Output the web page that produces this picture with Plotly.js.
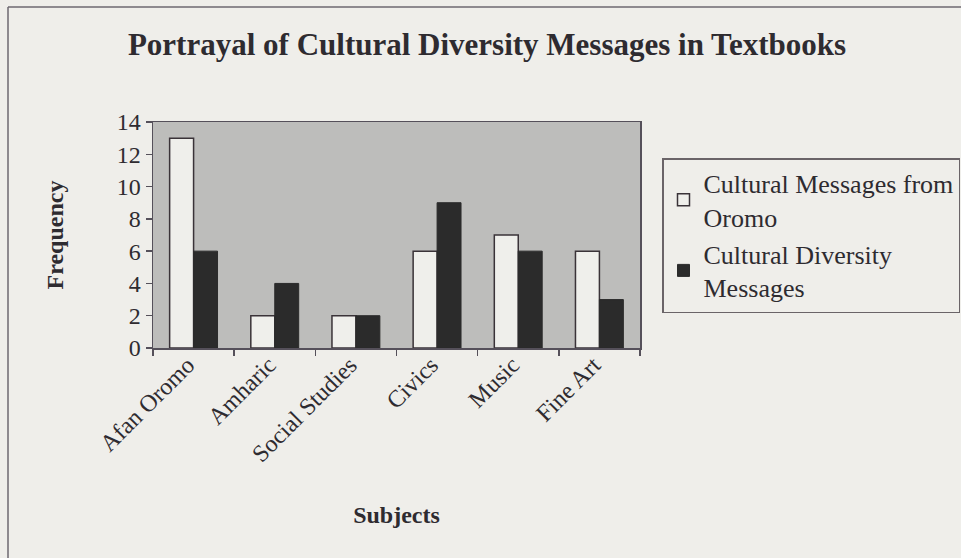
<!DOCTYPE html>
<html>
<head>
<meta charset="utf-8">
<script src="https://cdn.plot.ly/plotly-3.0.1.min.js"></script>
<style>
  html, body { margin: 0; padding: 0; background: #efeeea; }
  #chart { width: 961px; height: 558px; }
</style>
</head>
<body>
<div id="chart"></div>
<script>
const subjects = ["Afan Oromo", "Amharic", "Social Studies", "Civics", "Music", "Fine Art"];
const oromoMessages = [13, 2, 2, 6, 7, 6];
const diversityMessages = [6, 4, 2, 9, 6, 3];
const seriesNames = ["Cultural Messages from<br>Oromo", "Cultural Diversity<br>Messages"];

const FONT = "'Liberation Serif', 'Times New Roman', serif";
const INK = "#2e2b30";
const LINE = "#55505a";

const L = 153, R = 640, T = 122, B = 348, W = 961, H = 558;
const pw = R - L, ph = B - T;
const px = x => (x - L) / pw;
const py = y => 1 - (y - T) / ph;

const traces = [
  {
    type: "bar", x: subjects, y: oromoMessages, name: seriesNames[0],
    marker: { color: "#efefeb", line: { color: "#3a3338", width: 1.5 } }
  },
  {
    type: "bar", x: subjects, y: diversityMessages, name: seriesNames[1],
    marker: { color: "#2b2b2b", line: { color: "#2b2b2b", width: 1 } }
  }
];

const layout = {
  width: W, height: H,
  margin: { l: L, r: W - R, t: T, b: H - B, pad: 0, autoexpand: false },
  paper_bgcolor: "#efeeea",
  plot_bgcolor: "#bdbdbb",
  font: { family: FONT, color: INK, size: 24 },
  barmode: "group",
  bargap: 0.41,
  bargroupgap: 0,
  title: {
    text: "<b>Portrayal of Cultural Diversity Messages in Textbooks</b>",
    font: { family: FONT, size: 31, color: INK },
    x: px(487), xref: "paper", xanchor: "center",
    y: 1 - 44 / H, yanchor: "middle"
  },
  xaxis: {
    type: "category",
    tickangle: -45,
    ticks: "outside", ticklen: 6, tickcolor: LINE, tickwidth: 1.5,
    tickson: "boundaries",
    ticklabelshift: -6,
    ticklabelstandoff: -8,
    showline: true, linecolor: LINE, linewidth: 1.5, mirror: true,
    showgrid: false, zeroline: false,
    tickfont: { family: FONT, size: 24, color: INK },
    title: { text: "<b>Subjects</b>", font: { family: FONT, size: 24, color: INK }, standoff: 40 },
    automargin: false
  },
  yaxis: {
    range: [0, 14],
    tickvals: [0, 2, 4, 6, 8, 10, 12, 14],
    ticks: "outside", ticklen: 6, tickcolor: LINE, tickwidth: 1.5,
    showline: true, linecolor: LINE, linewidth: 1.5, mirror: true,
    showgrid: false, zeroline: false,
    tickfont: { family: FONT, size: 24, color: INK },
    title: { text: "<b>Frequency</b>", font: { family: FONT, size: 24, color: INK }, standoff: 46 },
    automargin: false
  },
  legend: {
    x: px(662), xanchor: "left",
    y: py(158), yanchor: "top",
    bgcolor: "#efeeea",
    bordercolor: "#6a6468", borderwidth: 1.5,
    font: { family: FONT, size: 26, color: INK },
    tracegroupgap: 2,
    itemwidth: 30
  },
  shapes: [
    { type: "line", xref: "paper", yref: "paper", x0: px(8), x1: px(8), y0: py(7), y1: py(H + 10),
      line: { color: "#6e6870", width: 1.5 } },
    { type: "line", xref: "paper", yref: "paper", x0: px(8), x1: px(W + 10), y0: py(7), y1: py(7),
      line: { color: "#6e6870", width: 1.5 } }
  ],
  showlegend: true
};

Plotly.newPlot("chart", traces, layout, { displayModeBar: false, staticPlot: true });
</script>
</body>
</html>
